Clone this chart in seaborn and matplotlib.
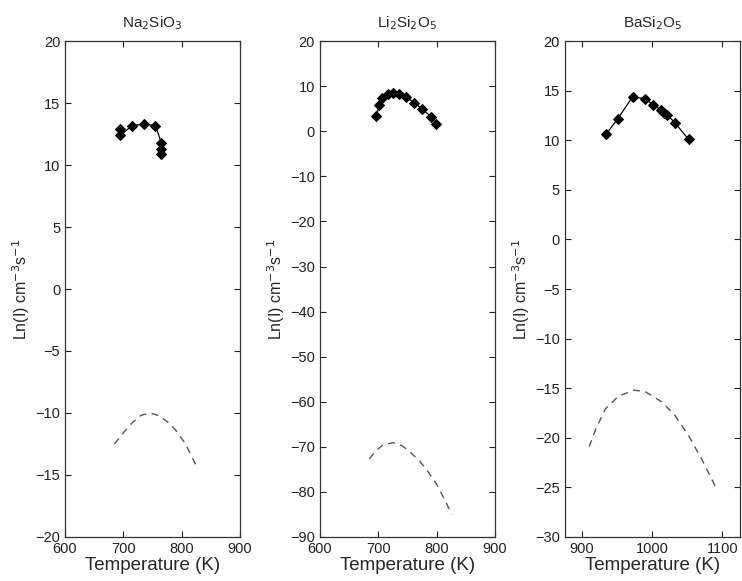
import matplotlib
matplotlib.use('Agg')
import matplotlib.pyplot as plt
import pandas as pd
import seaborn as sns

# Measured data (diamonds) and calculated curves (dashed)
na_T = [695, 695, 715, 735, 755, 765, 765, 765]
na_lnI = [12.9, 12.4, 13.2, 13.3, 13.2, 11.8, 11.3, 10.9]
na_calc_T = [685, 700, 715, 730, 745, 760, 775, 790, 805, 815, 826]
na_calc_lnI = [-12.5, -11.6, -10.8, -10.2, -10.0, -10.2, -10.7, -11.4, -12.4, -13.3, -14.4]

li_T = [697, 702, 707, 716, 726, 736, 747, 762, 775, 791, 799]
li_lnI = [3.5, 5.9, 7.4, 8.3, 8.5, 8.3, 7.6, 6.4, 5.0, 3.2, 1.7]
li_calc_T = [685, 695, 708, 725, 740, 754, 770, 783, 800, 813, 826]
li_calc_lnI = [-72.7, -71.0, -69.6, -69.1, -69.7, -71.1, -73.0, -75.1, -78.3, -81.5, -85.0]

ba_T = [934, 951, 972, 990, 1001, 1012, 1017, 1021, 1032, 1052]
ba_lnI = [10.6, 12.2, 14.4, 14.2, 13.6, 13.1, 12.8, 12.6, 11.8, 10.1]
ba_calc_T = [910, 919, 933, 952, 974, 990, 1014, 1033, 1052, 1071, 1090]
ba_calc_lnI = [-20.9, -19.2, -17.1, -15.8, -15.2, -15.35, -16.4, -17.8, -19.8, -22.2, -24.9]

titles = ['Na$_2$SiO$_3$', 'Li$_2$Si$_2$O$_5$', 'BaSi$_2$O$_5$']
xlims = [(600, 900), (600, 900), (875, 1125)]
xticks = [[600, 700, 800, 900], [600, 700, 800, 900], [900, 1000, 1100]]
ylims = [(-20, 20), (-90, 20), (-30, 20)]
yticks = [list(range(-20, 21, 5)), list(range(-90, 21, 10)), list(range(-30, 21, 5))]

sns.set_style('ticks')
plt.rcParams['font.family'] = ['Liberation Sans', 'DejaVu Sans']

panels = [(na_T, na_lnI, na_calc_T, na_calc_lnI),
          (li_T, li_lnI, li_calc_T, li_calc_lnI),
          (ba_T, ba_lnI, ba_calc_T, ba_calc_lnI)]
lefts = [0.0876, 0.431, 0.761]

fig = plt.figure(figsize=(7.42, 5.81), dpi=100)
for i, (T, lnI, cT, clnI) in enumerate(panels):
    ax = fig.add_axes([lefts[i], 0.076, 0.236, 0.853])
    meas = pd.DataFrame({'T': T, 'lnI': lnI})
    calc = pd.DataFrame({'T': cT, 'lnI': clnI})
    sns.lineplot(data=meas, x='T', y='lnI', ax=ax, estimator=None, sort=False,
                 color='black', linewidth=0.9, marker='D', markersize=5.5,
                 markeredgecolor='black', markerfacecolor='black')
    sns.lineplot(data=calc, x='T', y='lnI', ax=ax, estimator=None, sort=False,
                 color='#555555', linewidth=1.0, linestyle=(0, (5, 4)))
    ax.set_xlim(*xlims[i])
    ax.set_ylim(*ylims[i])
    ax.set_xticks(xticks[i])
    ax.set_yticks(yticks[i])
    ax.tick_params(direction='in', top=True, right=True, labelsize=10.5,
                   length=4, width=0.8, colors='#222222')
    for s in ax.spines.values():
        s.set_visible(True)
        s.set_color('#333333')
        s.set_linewidth(0.9)
    ax.set_title(titles[i], fontsize=11, pad=10)
    ax.set_xlabel('Temperature (K)', fontsize=13.5, labelpad=1)
    ax.set_ylabel('Ln(I) cm$^{-3}$s$^{-1}$', fontsize=11.5, labelpad=2)

fig.savefig('out.png', dpi=100)
